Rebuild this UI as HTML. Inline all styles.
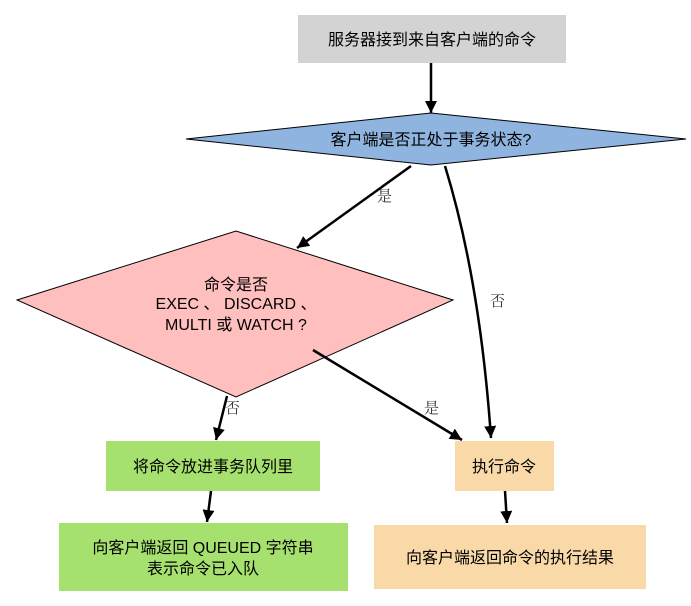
<!DOCTYPE html>
<html><head><meta charset="utf-8"><style>
body{margin:0;background:#fff;}
text{font-family:"Liberation Sans","Noto Sans CJK SC",sans-serif;font-size:16px;fill:#000;}
.l{font-family:"Noto Serif CJK SC","Liberation Serif",serif;font-size:15px;fill:#333;}
</style></head><body>
<svg width="691" height="601" viewBox="0 0 691 601" xmlns="http://www.w3.org/2000/svg">
<defs><marker id="a" markerWidth="10" markerHeight="10" refX="9" refY="5" orient="auto" markerUnits="userSpaceOnUse"><path d="M0,0 L10,5 L0,10 Z" fill="#000"/></marker>
<marker id="b" viewBox="0 0 10 10" markerWidth="12" markerHeight="18" refX="10" refY="5" orient="auto" markerUnits="userSpaceOnUse"><path d="M0,0 L10,5 L0,10 Z" fill="#000"/></marker></defs>
<rect x="298" y="15" width="268" height="48" fill="#d3d3d3"/>
<text x="432" y="45" text-anchor="middle">服务器接到来自客户端的命令</text>
<polygon points="186,139 431,113 686,139 431,165" fill="#8fb4e0" stroke="#000" stroke-width="1"/>
<text x="431" y="145" text-anchor="middle">客户端是否正处于事务状态?</text>
<polygon points="17,300 236,231 453,300 236,397" fill="#ffbfbf" stroke="#000" stroke-width="1"/>
<text x="236" y="290" text-anchor="middle">命令是否</text>
<text x="236" y="309" text-anchor="middle">EXEC 、 DISCARD 、</text>
<text x="236" y="330" text-anchor="middle">MULTI 或 WATCH ?</text>
<rect x="106" y="441" width="214" height="50" fill="#a6e06e"/>
<text x="213" y="472" text-anchor="middle">将命令放进事务队列里</text>
<rect x="455" y="441" width="99" height="50" fill="#fad9a8"/>
<text x="504" y="472" text-anchor="middle">执行命令</text>
<rect x="59" y="523" width="289" height="68" fill="#a6e06e"/>
<text x="203" y="553" text-anchor="middle">向客户端返回 QUEUED 字符串</text>
<text x="203" y="574" text-anchor="middle">表示命令已入队</text>
<rect x="374" y="525" width="272" height="64" fill="#fad9a8"/>
<text x="510" y="563" text-anchor="middle">向客户端返回命令的执行结果</text>
<g stroke="#000" stroke-width="2.5" fill="none">
<line x1="431" y1="63" x2="431" y2="113" marker-end="url(#b)"/>
<line x1="411" y1="166" x2="297" y2="248" marker-end="url(#b)"/>
<path d="M445,166 Q480,280 491,438" marker-end="url(#b)"/>
<line x1="227" y1="396" x2="216" y2="440" marker-end="url(#b)"/>
<line x1="313" y1="350" x2="462" y2="440" marker-end="url(#b)"/>
<line x1="211" y1="491" x2="207" y2="522" marker-end="url(#b)"/>
<line x1="505" y1="491" x2="507" y2="523" marker-end="url(#b)"/>
</g>
<text class="l" x="377" y="201">是</text>
<text class="l" x="490" y="306">否</text>
<text class="l" x="225" y="413">否</text>
<text class="l" x="424" y="413">是</text>
</svg>
</body></html>
